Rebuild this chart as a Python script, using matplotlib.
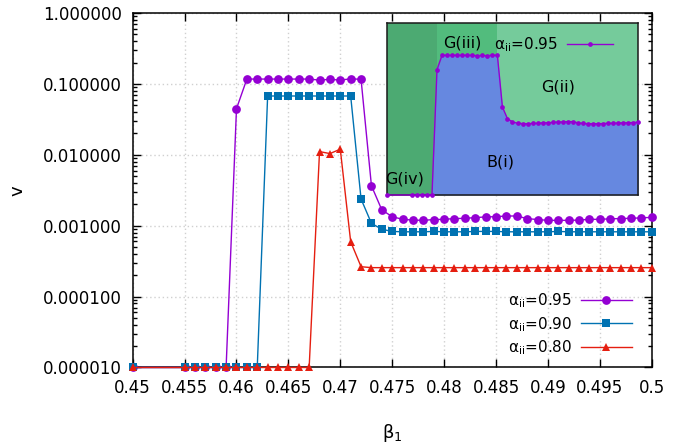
"""
Phase diagram: order parameter v versus beta_1 for three alpha_ii values,
with a log-scale inset showing the phase regions for alpha_ii = 0.95.
"""

import matplotlib
matplotlib.use("Agg")
import matplotlib.pyplot as plt
from matplotlib.ticker import FuncFormatter, LogLocator, NullFormatter

# ---------------------------------------------------------
# Data
# ---------------------------------------------------------

beta1 = [0.450,
         0.455, 0.456, 0.457, 0.458, 0.459, 0.460, 0.461, 0.462, 0.463, 0.464,
         0.465, 0.466, 0.467, 0.468, 0.469, 0.470, 0.471, 0.472, 0.473, 0.474,
         0.475, 0.476, 0.477, 0.478, 0.479, 0.480, 0.481, 0.482, 0.483, 0.484,
         0.485, 0.486, 0.487, 0.488, 0.489, 0.490, 0.491, 0.492, 0.493, 0.494,
         0.495, 0.496, 0.497, 0.498, 0.499, 0.500]

v_095 = [1e-5,
         1e-5, 1e-5, 1e-5, 1e-5, 1e-5, 0.0447, 0.117, 0.117, 0.117, 0.117,
         0.117, 0.117, 0.117, 0.113, 0.116, 0.113, 0.118, 0.116, 0.00366, 0.00167,
         0.00134, 0.00123, 0.00120, 0.00119, 0.00122, 0.00123, 0.00126, 0.00127, 0.00130, 0.00133,
         0.00134, 0.00137, 0.00137, 0.00126, 0.00122, 0.00119, 0.00119, 0.00119, 0.00120, 0.00123,
         0.00123, 0.00125, 0.00126, 0.00127, 0.00129, 0.00131]

v_090 = [1e-5,
         1e-5, 1e-5, 1e-5, 1e-5, 1e-5, 1e-5, 1e-5, 1e-5, 0.0675, 0.0675,
         0.0675, 0.0675, 0.0675, 0.0675, 0.0675, 0.0675, 0.0675, 0.00238, 0.00108, 0.00089,
         0.00083, 0.00082, 0.00082, 0.00082, 0.00083, 0.00082, 0.00082, 0.00082, 0.00083, 0.00083,
         0.00083, 0.00082, 0.00082, 0.00082, 0.00082, 0.00082, 0.00083, 0.00082, 0.00082, 0.00082,
         0.00082, 0.00082, 0.00082, 0.00082, 0.00082, 0.00082]

v_080 = [1e-5,
         1e-5, 1e-5, 1e-5, 1e-5, 1e-5, 1e-5, 1e-5, 1e-5, 1e-5, 1e-5,
         1e-5, 1e-5, 1e-5, 0.0111, 0.0104, 0.0120, 0.000594, 0.000264, 0.000256, 0.000256,
         0.000256, 0.000256, 0.000256, 0.000256, 0.000256, 0.000256, 0.000256, 0.000256, 0.000256, 0.000256,
         0.000256, 0.000256, 0.000256, 0.000256, 0.000256, 0.000256, 0.000256, 0.000256, 0.000256, 0.000256,
         0.000256, 0.000256, 0.000256, 0.000256, 0.000256, 0.000256]

series_labels = [r"α$_{\mathrm{ii}}$=0.95", r"α$_{\mathrm{ii}}$=0.90", r"α$_{\mathrm{ii}}$=0.80"]

x_ticks = [0.45, 0.455, 0.46, 0.465, 0.47, 0.475, 0.48, 0.485, 0.49, 0.495, 0.5]
x_ticklabels = ["0.45", "0.455", "0.46", "0.465", "0.47", "0.475",
                "0.48", "0.485", "0.49", "0.495", "0.5"]
y_ticks = [1e-5, 1e-4, 1e-3, 1e-2, 1e-1, 1.0]

# phase boundaries (beta_1) for the inset regions
phase_edges = [0.45, 0.46, 0.472, 0.5]
phase_names = ["G(iv)", "G(iii)", "G(ii)", "B(i)"]

# ---------------------------------------------------------
# Styling
# ---------------------------------------------------------

PURPLE = "#9400D3"
BLUE = "#0072B2"
RED = "#E51E10"
GREEN_DARK = "#4caa72"
GREEN_MID = "#52bc7d"
GREEN_LIGHT = "#75cb9b"
FILL_BLUE = "#6688e0"

plt.rcParams["font.family"] = ["DejaVu Sans"]
plt.rcParams["mathtext.fontset"] = "dejavusans"

fig = plt.figure(figsize=(6.85, 4.48), dpi=100)
ax = fig.add_axes([0.1937, 0.1797, 0.7577, 0.7913])

# ---------------------------------------------------------
# Main plot
# ---------------------------------------------------------

styles = [(v_095, PURPLE, "o", 6.3),
          (v_090, BLUE, "s", 5.2),
          (v_080, RED, "^", 5.8)]

for i, ((vals, col, mk, ms), lab) in enumerate(zip(styles, series_labels)):
    ax.plot(beta1, vals, color=col, marker=mk, markersize=ms, linewidth=1.0,
            markeredgewidth=0, label=lab, clip_on=False, zorder=3 + i)

ax.set_yscale("log")
ax.set_xlim(0.45, 0.5)
ax.set_ylim(1e-5, 1.0)

ax.set_xticks(x_ticks)
ax.set_xticklabels(x_ticklabels)
ax.set_yticks(y_ticks)
ax.yaxis.set_major_formatter(FuncFormatter(lambda v, _: f"{v:f}"))
ax.yaxis.set_minor_locator(LogLocator(base=10, subs=range(2, 10), numticks=20))
ax.yaxis.set_minor_formatter(NullFormatter())

ax.tick_params(which="both", direction="in", top=True, right=True,
               labelsize=12, width=1.0)
ax.tick_params(which="major", length=6)
ax.tick_params(which="minor", length=3)
ax.tick_params(axis="x", pad=8)
ax.tick_params(axis="y", pad=8)

for sp in ax.spines.values():
    sp.set_linewidth(1.1)

ax.grid(True, which="major", color="#d0d0d0", linestyle=(0, (1, 2)),
        linewidth=1.0)
ax.set_axisbelow(True)

ax.set_xlabel(r"β$_1$", fontsize=13, labelpad=18)
ax.set_ylabel("v", fontsize=13, labelpad=12)

ax.legend(loc="lower right", bbox_to_anchor=(0.982, 0.0), frameon=False,
          markerfirst=False, fontsize=11, handlelength=3.3,
          handletextpad=0.6, labelspacing=0.3, borderaxespad=0.3)

# ---------------------------------------------------------
# Inset: phase regions for alpha_ii = 0.95
# ---------------------------------------------------------

ins = fig.add_axes([0.5645, 0.5647, 0.3673, 0.3833])
ins.set_yscale("log")
ins.set_xlim(0.45, 0.5)
ins.set_ylim(1e-5, 1.0)

region_colors = [GREEN_DARK, GREEN_MID, GREEN_LIGHT]
for lo, hi, col in zip(phase_edges[:-1], phase_edges[1:], region_colors):
    ins.axvspan(lo, hi, color=col, linewidth=0, zorder=0)
ins.fill_between(beta1, 1e-5, v_095, color=FILL_BLUE, linewidth=0, zorder=1)

ins.plot(beta1, v_095, color=PURPLE, marker="o", markersize=3.4,
         markeredgewidth=0, linewidth=1.0, label=series_labels[0],
         clip_on=False, zorder=3)

ins.set_xticks([])
ins.set_yticks([])
ins.minorticks_off()
for sp in ins.spines.values():
    sp.set_linewidth(1.1)
    sp.set_color("#1a1a1a")

label_pos = [(0.073, 0.091), (0.302, 0.887), (0.680, 0.631), (0.450, 0.194)]
for name, (px, py) in zip(phase_names, label_pos):
    ins.text(px, py, name, transform=ins.transAxes, ha="center",
             va="center", fontsize=11.5, color="black", zorder=4)

ins.legend(loc="center right", bbox_to_anchor=(0.925, 0.874), frameon=False,
           markerfirst=False, fontsize=11, handlelength=3.0,
           handletextpad=0.6, borderaxespad=0.0)

fig.savefig("out.png", dpi=100)
